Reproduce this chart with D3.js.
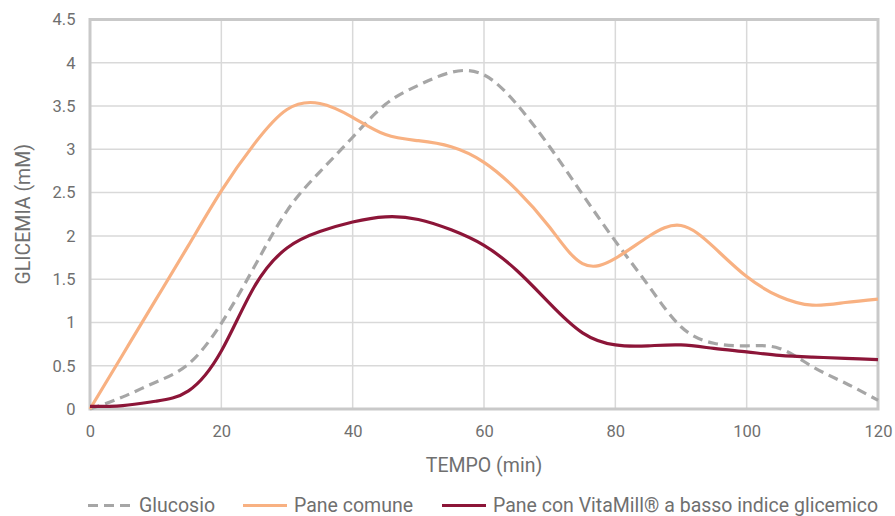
<!DOCTYPE html>
<html>
<head>
<meta charset="utf-8">
<script src="https://cdn.jsdelivr.net/npm/d3@7"></script>
<style>
  body { margin: 0; background: #fff; }
  text { font-family: Roboto, "Noto Sans", sans-serif; fill: #6f6f6f; }
</style>
</head>
<body>
<svg id="chart"></svg>
<script>
const times = [0, 5, 10, 15, 20, 25, 30, 35, 40, 45, 50, 55, 60, 65, 70, 75, 80, 85, 90, 95, 100, 105, 110, 115, 120];
const glucosio = [0, 0.14, 0.31, 0.52, 0.99, 1.64, 2.29, 2.74, 3.14, 3.52, 3.74, 3.89, 3.86, 3.52, 3.03, 2.48, 1.94, 1.43, 0.95, 0.76, 0.73, 0.70, 0.49, 0.30, 0.10];
const paneComune = [0, 0.63, 1.26, 1.89, 2.52, 3.06, 3.46, 3.53, 3.37, 3.17, 3.10, 3.03, 2.85, 2.53, 2.10, 1.68, 1.74, 1.99, 2.12, 1.87, 1.53, 1.30, 1.20, 1.23, 1.27];
const vitamill = [0.03, 0.04, 0.09, 0.21, 0.67, 1.41, 1.86, 2.05, 2.16, 2.22, 2.19, 2.07, 1.89, 1.60, 1.22, 0.88, 0.74, 0.73, 0.74, 0.70, 0.66, 0.62, 0.60, 0.585, 0.57];
const xTicks = [0, 20, 40, 60, 80, 100, 120];
const yTicks = [0, 0.5, 1, 1.5, 2, 2.5, 3, 3.5, 4, 4.5];
const seriesNames = ["Glucosio", "Pane comune", "Pane con VitaMill® a basso indice glicemico"];

const width = 895;
const height = 516;
const margin = { top: 19.5, right: 17, bottom: 107, left: 90 };

const svg = d3.select("#chart")
    .attr("width", width)
    .attr("height", height);

const xScale = d3.scaleLinear()
    .domain([0, 120])
    .range([margin.left, width - margin.right]);

const yScale = d3.scaleLinear()
    .domain([0, 4.5])
    .range([height - margin.bottom, margin.top]);

// grid
svg.append("g")
    .selectAll("line")
    .data(xTicks)
    .enter()
    .append("line")
    .attr("x1", d => xScale(d))
    .attr("x2", d => xScale(d))
    .attr("y1", yScale(0))
    .attr("y2", yScale(4.5))
    .attr("stroke", "#d9d9d9")
    .attr("stroke-width", 1.5);

svg.append("g")
    .selectAll("line")
    .data(yTicks)
    .enter()
    .append("line")
    .attr("x1", xScale(0))
    .attr("x2", xScale(120))
    .attr("y1", d => yScale(d))
    .attr("y2", d => yScale(d))
    .attr("stroke", "#d9d9d9")
    .attr("stroke-width", 1.5);

// frame
svg.append("rect")
    .attr("x", xScale(0))
    .attr("y", yScale(4.5))
    .attr("width", xScale(120) - xScale(0))
    .attr("height", yScale(0) - yScale(4.5))
    .attr("fill", "none")
    .attr("stroke", "#c9c9c9")
    .attr("stroke-width", 3);

// axes (labels only)
const xAxis = svg.append("g")
    .attr("transform", `translate(0, ${yScale(0)})`)
    .call(d3.axisBottom(xScale).tickValues(xTicks).tickSize(0).tickPadding(16).tickFormat(d3.format("d")));
const yAxis = svg.append("g")
    .attr("transform", `translate(${xScale(0)}, 0)`)
    .call(d3.axisLeft(yScale).tickValues(yTicks).tickSize(0).tickPadding(14.5).tickFormat(d => String(d)));
[xAxis, yAxis].forEach(a => {
    a.select(".domain").remove();
    a.selectAll("text").attr("font-size", 16.5).attr("fill", "#6f6f6f")
        .style("font-family", "Roboto, 'Noto Sans', sans-serif");
});

svg.append("text")
    .attr("x", (xScale(0) + xScale(120)) / 2)
    .attr("y", 472)
    .attr("text-anchor", "middle")
    .attr("font-size", 19.5)
    .text("TEMPO (min)");

svg.append("text")
    .attr("transform", `translate(30, ${(yScale(0) + yScale(4.5)) / 2}) rotate(-90)`)
    .attr("text-anchor", "middle")
    .attr("font-size", 19.5)
    .text("GLICEMIA (mM)");

// lines
const series = [
    { name: seriesNames[0], values: glucosio, color: "#a6a6a6", dash: "10,6" },
    { name: seriesNames[1], values: paneComune, color: "#f8b182", dash: null },
    { name: seriesNames[2], values: vitamill, color: "#8c1538", dash: null }
];

const line = d3.line()
    .x((d, i) => xScale(times[i]))
    .y(d => yScale(d))
    .curve(d3.curveNatural);

series.forEach(s => {
    svg.append("path")
        .datum(s.values)
        .attr("d", line)
        .attr("fill", "none")
        .attr("stroke", s.color)
        .attr("stroke-width", 3.2)
        .attr("stroke-dasharray", s.dash);
});

// legend
const legendX = [88, 243, 442];
const legend = svg.append("g").attr("transform", "translate(0, 505.5)");
series.forEach((s, i) => {
    legend.append("line")
        .attr("x1", legendX[i])
        .attr("x2", legendX[i] + 44)
        .attr("y1", 0)
        .attr("y2", 0)
        .attr("stroke", s.color)
        .attr("stroke-width", 3.2)
        .attr("stroke-dasharray", s.dash);
    legend.append("text")
        .attr("x", legendX[i] + 51)
        .attr("y", 0)
        .attr("dy", "0.35em")
        .attr("font-size", 19.5)
        .text(s.name);
});
</script>
</body>
</html>
